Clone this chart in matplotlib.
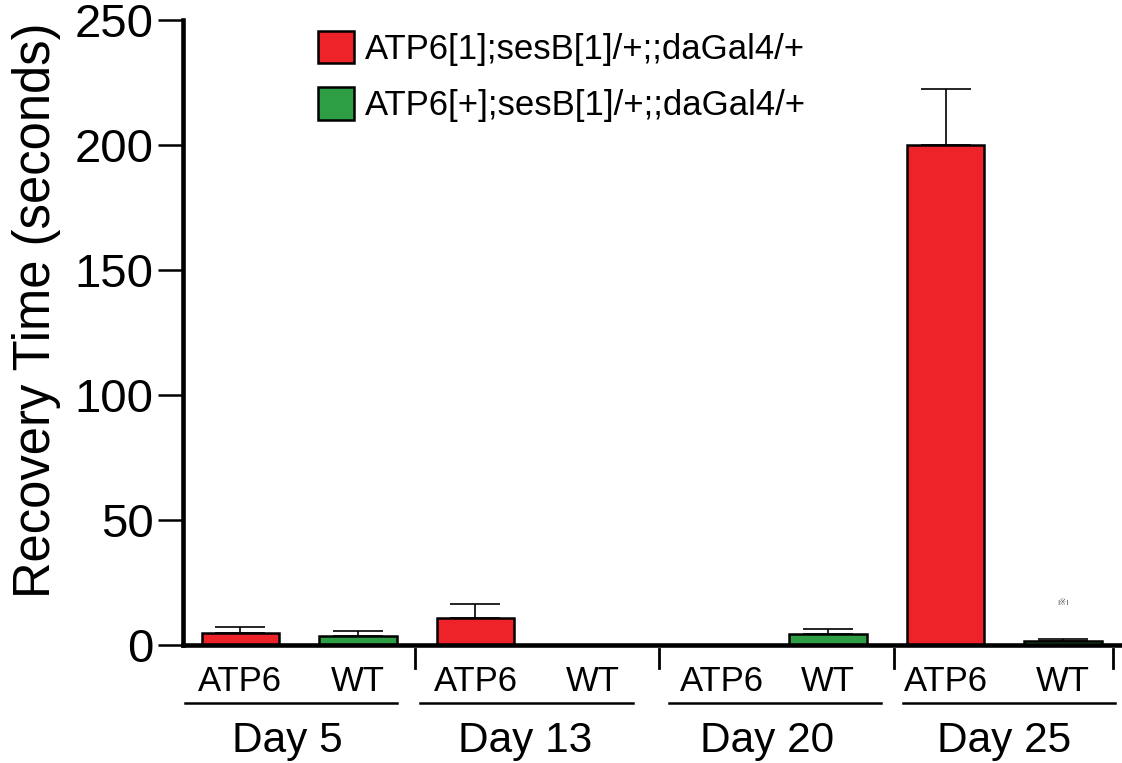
import matplotlib.pyplot as plt
import numpy as np
from matplotlib.transforms import blended_transform_factory

plt.rcParams['font.family'] = ['Liberation Sans', 'DejaVu Sans']

# data
days = ['Day 5', 'Day 13', 'Day 20', 'Day 25']
sub_labels = ['ATP6', 'WT']
series_names = ['ATP6[1];sesB[1]/+;;daGal4/+', 'ATP6[+];sesB[1]/+;;daGal4/+']
atp6_mean = [4.8, 11.0, 0.0, 200.0]
atp6_err = [2.4, 5.6, np.nan, 22.5]
wt_mean = [3.6, 0.0, 4.6, 1.5]
wt_err = [2.2, np.nan, 2.0, 0.8]

red = '#EE2229'
green = '#2E9E45'

# group layout under the axis (data x units)
line_start = [-0.485, 0.515, 1.574, 2.57]
line_end = [0.417, 1.421, 2.477, 3.47]
day_label_x = [-0.05, 0.96, 1.99, 3.0]
atp6_label_x = [-0.25, 0.75, 1.80, 2.75]
wt_label_x = [0.25, 1.25, 2.25, 3.25]
separators = [0.494, 1.53, 2.53, 3.46]

fig = plt.figure(figsize=(11.22, 7.63), dpi=100)
ax = fig.add_axes([183/1122, 1-645/763, 1-183/1122, 625/763])

x = np.arange(len(days))
off = 0.25
w = 0.33
b1 = ax.bar(x - off, atp6_mean, w, color=red, edgecolor='black', linewidth=1.8, zorder=3, label=series_names[0])
b2 = ax.bar(x + off, wt_mean, w, color=green, edgecolor='black', linewidth=1.8, zorder=3, label=series_names[1])
ax.errorbar(x - off, atp6_mean, yerr=[np.zeros(4), atp6_err], fmt='none', ecolor='black',
            elinewidth=1.2, capsize=18, capthick=1.2, zorder=2)
ax.errorbar(x + off, wt_mean, yerr=[np.zeros(4), wt_err], fmt='none', ecolor='black',
            elinewidth=1.2, capsize=18, capthick=1.2, zorder=2)
ax.text(3 + off, 16.5, 'I※I', ha='center', va='center', fontsize=6, color='#555555')

ax.set_xlim(-0.494, 3.5)
ax.set_ylim(0, 250)
ax.set_yticks([0, 50, 100, 150, 200, 250])
ax.tick_params(axis='y', labelsize=34, width=1.8, length=18, direction='out', pad=3)
ax.set_xticks([])
for s in ['top', 'right']:
    ax.spines[s].set_visible(False)
ax.spines['left'].set_linewidth(3.3)
ax.spines['bottom'].set_linewidth(3.3)
ax.spines['left'].set_zorder(5)
ax.spines['bottom'].set_zorder(5)

# category labels below axis
tr = blended_transform_factory(ax.transData, ax.transAxes)
for i in range(len(days)):
    ax.text(atp6_label_x[i], -0.059, sub_labels[0], transform=tr, ha='center', va='center', fontsize=25)
    ax.text(wt_label_x[i], -0.059, sub_labels[1], transform=tr, ha='center', va='center', fontsize=25)
    ax.plot([line_start[i], line_end[i]], [-0.093, -0.093], transform=tr, color='black',
            lw=1.8, clip_on=False)
    ax.text(day_label_x[i], -0.153, days[i], transform=tr, ha='center', va='center', fontsize=30.5)
for sx in separators:
    ax.plot([sx, sx], [-0.006, -0.037], transform=tr, color='black', lw=2, clip_on=False)

fig.text(37/1122, 1-310/763, 'Recovery Time (seconds)', rotation=90, ha='center', va='center',
         fontsize=36.5)

ax.legend(handles=[b1, b2], loc='upper left', bbox_to_anchor=(318/1122, 1-31/763),
          bbox_transform=fig.transFigure, frameon=False, fontsize=25, handlelength=1.05,
          handleheight=1.05, handletextpad=0.3, labelspacing=0.62, borderpad=0, borderaxespad=0)

fig.savefig('out.png', dpi=100)
